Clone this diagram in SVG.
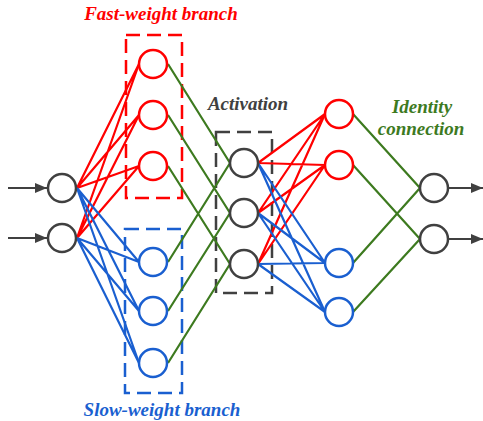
<svg xmlns="http://www.w3.org/2000/svg" width="483" height="421" viewBox="0 0 483 421">
<defs>
<marker id="arr" viewBox="0 0 12 10" refX="12" refY="5" markerWidth="12" markerHeight="10" markerUnits="userSpaceOnUse" orient="auto">
<path d="M0,0 L12,5 L0,10 z" fill="#404040"/>
</marker>
<style>
.r{stroke:#ff0000;stroke-width:2.2;fill:none}
.b{stroke:#1a5fd0;stroke-width:2.2;fill:none}
.g{stroke:#3d7a1f;stroke-width:2.2;fill:none}
.a{stroke:#404040;stroke-width:2.2;fill:none}
.nk{fill:#fff;stroke:#404040;stroke-width:2.5}
.nr{fill:#fff;stroke:#ff0000;stroke-width:2.5}
.nb{fill:#fff;stroke:#1a5fd0;stroke-width:2.5}
.box{fill:none;stroke-width:2.5;stroke-dasharray:14 7}
.t{font-family:"Liberation Serif","Times New Roman",serif;font-weight:bold;font-style:italic;font-size:19px;text-anchor:middle}
</style>
</defs>
<rect width="483" height="421" fill="#fff"/>
<g id="boxes">
<rect x="126" y="35" width="56" height="163" class="box" stroke="#ff0000"/>
<rect x="125" y="229" width="57" height="164" class="box" stroke="#1a5fd0"/>
<rect x="216" y="132" width="56" height="161" class="box" stroke="#404040"/>
</g>
<g id="connectors">
<g class="r">
<path d="M77,188L139,64M77,188L139,115M77,188L139,166M77,238L139,64M77,238L139,115M77,238L139,166"/>
<path d="M258,163L325,114M258,163L325,165M258,213L325,114M258,213L325,165M258,264L325,114M258,264L325,165"/>
</g>
<g class="b">
<path d="M77,188L139,262M77,188L139,311M77,188L139,363M77,238L139,262M77,238L139,311M77,238L139,363"/>
<path d="M258,163L325,263M258,163L325,312M258,213L325,263M258,213L325,312M258,264L325,263M258,264L325,312"/>
</g>
<g class="g">
<path d="M168,64L230,163M168,115L230,213M168,166L230,264M168,262L230,163M168,311L230,213M168,363L230,264"/>
<path d="M353,114L420,188M353,165L420,239M353,263L420,188M353,312L420,239"/>
</g>
<g class="a">
<path d="M8,188H47" marker-end="url(#arr)"/>
<path d="M8,238H47" marker-end="url(#arr)"/>
<path d="M449,188H483" marker-end="url(#arr)"/>
<path d="M449,239H483" marker-end="url(#arr)"/>
</g>
</g>
<g id="in1"><circle cx="62" cy="188" r="14" class="nk"/></g>
<g id="in2"><circle cx="62" cy="238" r="14" class="nk"/></g>
<g id="f1"><circle cx="153" cy="64" r="14" class="nr"/></g>
<g id="f2"><circle cx="153" cy="115" r="14" class="nr"/></g>
<g id="f3"><circle cx="153" cy="166" r="14" class="nr"/></g>
<g id="s1"><circle cx="153" cy="262" r="14" class="nb"/></g>
<g id="s2"><circle cx="153" cy="311" r="14" class="nb"/></g>
<g id="s3"><circle cx="153" cy="363" r="14" class="nb"/></g>
<g id="a1"><circle cx="244" cy="163" r="14" class="nk"/></g>
<g id="a2"><circle cx="244" cy="213" r="14" class="nk"/></g>
<g id="a3"><circle cx="244" cy="264" r="14" class="nk"/></g>
<g id="r1"><circle cx="339" cy="114" r="14" class="nr"/></g>
<g id="r2"><circle cx="339" cy="165" r="14" class="nr"/></g>
<g id="b1"><circle cx="339" cy="263" r="14" class="nb"/></g>
<g id="b2"><circle cx="339" cy="312" r="14" class="nb"/></g>
<g id="o1"><circle cx="434" cy="188" r="14" class="nk"/></g>
<g id="o2"><circle cx="434" cy="239" r="14" class="nk"/></g>
<g id="labels">
<text x="161" y="20" class="t" fill="#ff0000">Fast-weight branch</text>
<text x="248" y="110" class="t" fill="#404040">Activation</text>
<text x="422" y="113" class="t" fill="#3d7a1f">Identity</text>
<text x="421" y="135" class="t" fill="#3d7a1f">connection</text>
<text x="162" y="416" class="t" fill="#1a5fd0">Slow-weight branch</text>
</g>
</svg>
